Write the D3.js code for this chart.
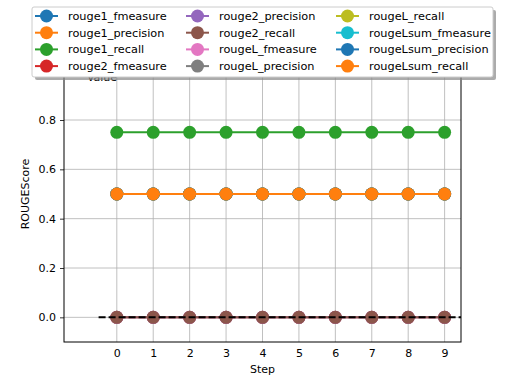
<!DOCTYPE html>
<html>
<head>
<meta charset="utf-8">
<script src="https://cdn.jsdelivr.net/npm/d3@7"></script>
<style>
  body { margin: 0; background: #fff; }
  text { font-family: "DejaVu Sans", sans-serif; }
</style>
</head>
<body>
<div id="chart"></div>
<script>
// data
const steps = [0, 1, 2, 3, 4, 5, 6, 7, 8, 9];
const seriesNames = [
    "rouge1_fmeasure", "rouge1_precision", "rouge1_recall", "rouge2_fmeasure",
    "rouge2_precision", "rouge2_recall", "rougeL_fmeasure", "rougeL_precision",
    "rougeL_recall", "rougeLsum_fmeasure", "rougeLsum_precision", "rougeLsum_recall"
];
const seriesValues = [
    [0.5, 0.5, 0.5, 0.5, 0.5, 0.5, 0.5, 0.5, 0.5, 0.5],
    [0.5, 0.5, 0.5, 0.5, 0.5, 0.5, 0.5, 0.5, 0.5, 0.5],
    [0.75, 0.75, 0.75, 0.75, 0.75, 0.75, 0.75, 0.75, 0.75, 0.75],
    [0, 0, 0, 0, 0, 0, 0, 0, 0, 0],
    [0, 0, 0, 0, 0, 0, 0, 0, 0, 0],
    [0, 0, 0, 0, 0, 0, 0, 0, 0, 0],
    [0.5, 0.5, 0.5, 0.5, 0.5, 0.5, 0.5, 0.5, 0.5, 0.5],
    [0.5, 0.5, 0.5, 0.5, 0.5, 0.5, 0.5, 0.5, 0.5, 0.5],
    [0.5, 0.5, 0.5, 0.5, 0.5, 0.5, 0.5, 0.5, 0.5, 0.5],
    [0.5, 0.5, 0.5, 0.5, 0.5, 0.5, 0.5, 0.5, 0.5, 0.5],
    [0.5, 0.5, 0.5, 0.5, 0.5, 0.5, 0.5, 0.5, 0.5, 0.5],
    [0.5, 0.5, 0.5, 0.5, 0.5, 0.5, 0.5, 0.5, 0.5, 0.5]
];
const colors = [
    "#1f77b4", "#ff7f0e", "#2ca02c", "#d62728", "#9467bd", "#8c564b",
    "#e377c2", "#7f7f7f", "#bcbd22", "#17becf", "#1f77b4", "#ff7f0e"
];
const yTicks = [0.0, 0.2, 0.4, 0.6, 0.8];
const baseline = 0;

// dimensions
const margin = { top: 46, right: 51, bottom: 42, left: 64 },
    width = 512 - margin.left - margin.right,
    height = 384 - margin.top - margin.bottom;

const svgRoot = d3.select("#chart")
    .append("svg")
    .attr("width", 512)
    .attr("height", 384);

const svg = svgRoot.append("g")
    .attr("transform", `translate(${margin.left},${margin.top})`);

const x = d3.scaleLinear().domain([-1.45, 9.45]).range([0, width]);
const y = d3.scaleLinear().domain([-0.1, 1.1]).range([height, 0]);

svg.append("defs").append("clipPath").attr("id", "clip")
    .append("rect").attr("width", width).attr("height", height);

// grid
svg.append("g").selectAll("line")
    .data(steps).join("line")
    .attr("x1", d => x(d)).attr("x2", d => x(d))
    .attr("y1", 0).attr("y2", height)
    .attr("stroke", "#b0b0b0").attr("stroke-width", 0.8);
svg.append("g").selectAll("line")
    .data(yTicks).join("line")
    .attr("x1", 0).attr("x2", width)
    .attr("y1", d => y(d)).attr("y2", d => y(d))
    .attr("stroke", "#b0b0b0").attr("stroke-width", 0.8);

// axes
const xAxis = svg.append("g")
    .attr("transform", `translate(0,${height})`)
    .call(d3.axisBottom(x).tickValues(steps).tickFormat(d3.format("d")).tickSize(0).tickPadding(7));
const yAxis = svg.append("g")
    .call(d3.axisLeft(y).tickValues(yTicks).tickFormat(d3.format(".1f")).tickSize(4).tickPadding(4));
[xAxis, yAxis].forEach(a => {
    a.select(".domain").remove();
    a.selectAll("text").attr("font-size", 11).attr("fill", "#000")
        .style("font-family", "DejaVu Sans");
    a.selectAll("line").attr("stroke", "#000").attr("stroke-width", 0.8);
});

// lines + markers
const plot = svg.append("g").attr("clip-path", "url(#clip)");
const line = d3.line().x((d, i) => x(steps[i])).y(d => y(d));
seriesValues.forEach((vals, k) => {
    const g = plot.append("g");
    g.append("path").datum(vals)
        .attr("d", line)
        .attr("fill", "none")
        .attr("stroke", colors[k])
        .attr("stroke-width", 2);
    g.selectAll("circle").data(vals).join("circle")
        .attr("cx", (d, i) => x(steps[i]))
        .attr("cy", d => y(d))
        .attr("r", 6.5)
        .attr("fill", colors[k]);
});

// dashed baseline
plot.append("line")
    .attr("x1", x(-0.5)).attr("x2", x(9.5))
    .attr("y1", y(baseline)).attr("y2", y(baseline))
    .attr("stroke", "#000").attr("stroke-width", 2)
    .attr("stroke-dasharray", "7,3");

// frame
svg.append("rect")
    .attr("width", width).attr("height", height)
    .attr("fill", "none").attr("stroke", "#000").attr("stroke-width", 1);

// labels
svg.append("text")
    .attr("x", width / 2).attr("y", height + 31)
    .attr("text-anchor", "middle").attr("font-size", 11)
    .text("Step");
svg.append("text")
    .attr("transform", `translate(-35,${height / 2}) rotate(-90)`)
    .attr("text-anchor", "middle").attr("font-size", 11)
    .text("ROUGEScore");
// "Value" sits mostly hidden under the legend, as in the original
svgRoot.append("text")
    .attr("x", 102).attr("y", 81)
    .attr("text-anchor", "middle").attr("font-size", 11)
    .text("Value");

// legend
const lg = svgRoot.append("g").attr("transform", "translate(32,7)");
const lgW = 461, lgH = 70;
lg.append("rect")
    .attr("x", 3).attr("y", 3).attr("width", lgW).attr("height", lgH)
    .attr("rx", 2).attr("fill", "#888").attr("opacity", 0.7);
lg.append("rect")
    .attr("width", lgW).attr("height", lgH).attr("rx", 2)
    .attr("fill", "#fff").attr("stroke", "#ccc").attr("stroke-width", 1);
const colX = [3, 154, 304];
seriesNames.forEach((name, k) => {
    const col = Math.floor(k / 4), row = k % 4;
    const item = lg.append("g")
        .attr("transform", `translate(${colX[col]},${9 + row * 16.7})`);
    item.append("line")
        .attr("x1", 0).attr("x2", 23).attr("y1", 0).attr("y2", 0)
        .attr("stroke", colors[k]).attr("stroke-width", 2);
    item.append("circle")
        .attr("cx", 11.5).attr("cy", 0).attr("r", 6.5)
        .attr("fill", colors[k]);
    item.append("text")
        .attr("x", 33).attr("y", 4).attr("font-size", 11.3)
        .text(name);
});
</script>
</body>
</html>
